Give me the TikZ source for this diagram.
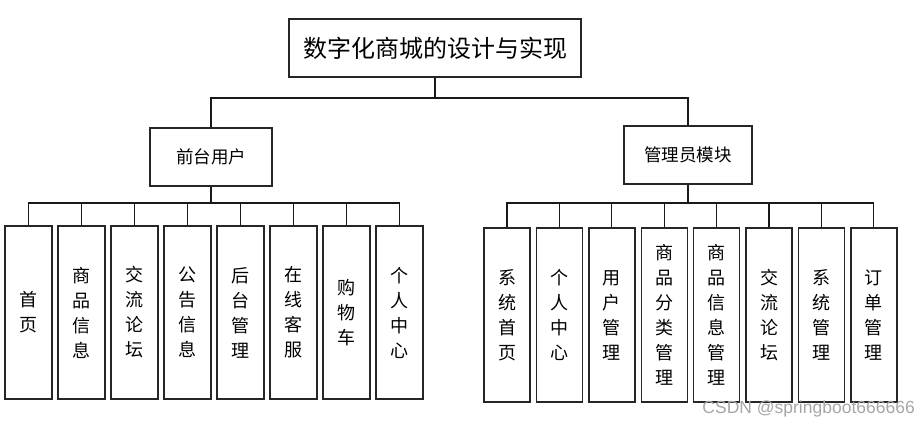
\documentclass[tikz,border=0pt]{standalone}
\usepackage{fontspec}
\newfontfamily\cjk{Noto Sans CJK SC}
\setsansfont{Liberation Sans}
\begin{document}
\begin{tikzpicture}[x=1pt,y=-1pt,
  box/.style={draw=black!85,line width=1.4pt,fill=white,inner sep=0pt},
  link/.style={draw=black!90,line width=1.3pt},
  toptext/.style={font=\cjk\fontsize{24}{28}\selectfont},
  midtext/.style={font=\cjk\fontsize{17.5}{20}\selectfont},
  leaf/.style={box,align=center,font=\cjk\fontsize{18}{25}\selectfont}]
\useasboundingbox (0,0) rectangle (919,424);
\node[box,toptext,minimum width=292pt,minimum height=58pt] (root) at (435,48) {数字化商城的设计与实现};
\node[box,midtext,minimum width=122pt,minimum height=58pt] (L) at (211,157) {前台用户};
\node[box,midtext,minimum width=128pt,minimum height=58pt] (R) at (688,155) {管理员模块};
\coordinate (jt) at (435,98);
\coordinate (jl) at (211,203);
\coordinate (jr) at (688,203);
\draw[link] (root.south) -- (jt) -| (L.north);
\draw[link] (jt) -| (R.north);
\draw[link] (L.south) -- (jl);
\draw[link] (R.south) -- (jr);
% left leaves
\foreach \i/\t in {0/{首\\页},1/{商\\品\\信\\息},2/{交\\流\\论\\坛},3/{公\\告\\信\\息},4/{后\\台\\管\\理},5/{在\\线\\客\\服},6/{购\\物\\车},7/{个\\人\\中\\心}}{
  \node[leaf,minimum width=47pt,minimum height=173pt] (lc\i) at ({28.5+53*\i},312.5) {\t};
  \draw[link] (jl) -| (lc\i.north);
}
% right leaves
\foreach \i/\t in {0/{系\\统\\首\\页},1/{个\\人\\中\\心},2/{用\\户\\管\\理},3/{商\\品\\分\\类\\管\\理},4/{商\\品\\信\\息\\管\\理},5/{交\\流\\论\\坛},6/{系\\统\\管\\理},7/{订\\单\\管\\理}}{
  \node[leaf,minimum width=46pt,minimum height=174pt] (rc\i) at ({507+52.4*\i},315) {\t};
  \draw[link] (jr) -| (rc\i.north);
}
\node[text=black!35,font=\sffamily\fontsize{17.5}{19}\selectfont,anchor=east,inner sep=0pt] (wm) at (915,409) {CSDN @springboot666666};
\end{tikzpicture}
\end{document}
